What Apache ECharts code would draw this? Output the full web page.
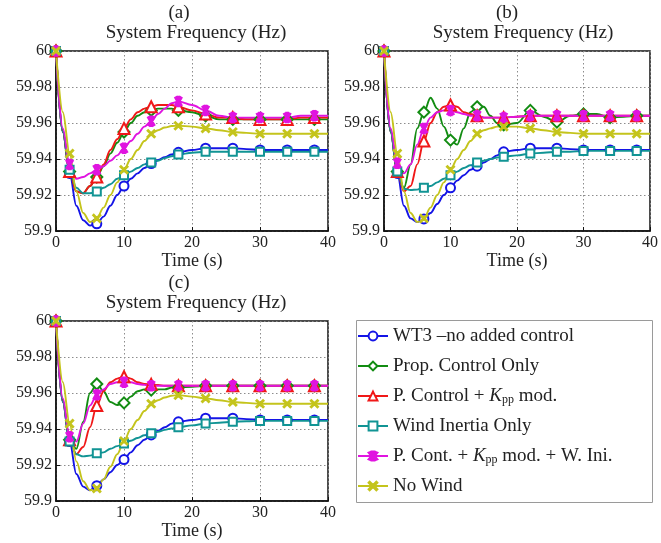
<!DOCTYPE html>
<html>
<head>
<meta charset="utf-8">
<script src="https://cdn.jsdelivr.net/npm/echarts@6/dist/echarts.min.js"></script>
<style>html,body{margin:0;padding:0;background:#fff;}#c{width:661px;height:543px;}</style>
</head>
<body>
<div id="c"></div>
<script>
// ---- data ----
const T = [0,1,2,3,4,5,6,7,8,9,10,11,12,13,14,15,16,17,18,20,22,24,26,28,30,32,34,36,38,40];
const MARK_T = [0,2,6,10,14,18,22,26,30,34,38];
const NAMES = ['WT3 –no added control','Prop. Control Only','P. Control + Kpp mod.','Wind Inertia Only','P. Cont. + Kpp mod. + W. Ini.','No Wind'];
const PANEL_LABELS = ['(a)','(b)','(c)'];
const PANEL_TITLE = 'System Frequency (Hz)';
const X_NAME = 'Time (s)';

// panel (a)
const a_wt3    = [60,59.955,59.932,59.914,59.906,59.903,59.904,59.908,59.914,59.920,59.925,59.929,59.932,59.935,59.9375,59.9395,59.941,59.9425,59.9437,59.945,59.946,59.946,59.946,59.9455,59.945,59.945,59.945,59.945,59.945,59.945];
const a_prop   = [60,59.955,59.933,59.922,59.921,59.925,59.930,59.936,59.943,59.949,59.955,59.960,59.964,59.966,59.967,59.968,59.968,59.968,59.967,59.966,59.964,59.962,59.962,59.962,59.962,59.962,59.962,59.962,59.962,59.962];
const a_pkpp   = [60,59.955,59.933,59.922,59.921,59.925,59.930,59.937,59.945,59.951,59.957,59.962,59.966,59.968,59.969,59.970,59.970,59.970,59.969,59.967,59.965,59.963,59.963,59.962,59.962,59.962,59.962,59.963,59.963,59.963];
const a_wind   = [60,59.955,59.934,59.924,59.921,59.921,59.922,59.924,59.926,59.929,59.931,59.933,59.935,59.937,59.938,59.939,59.9405,59.9415,59.9425,59.9435,59.944,59.944,59.944,59.944,59.944,59.944,59.944,59.944,59.944,59.944];
const a_all    = [60,59.957,59.937,59.929,59.930,59.932,59.934,59.936,59.939,59.942,59.946,59.950,59.954,59.958,59.961,59.965,59.968,59.971,59.972,59.970,59.967,59.964,59.963,59.963,59.963,59.963,59.963,59.964,59.964,59.964];
const a_nowind = [60,59.966,59.943,59.922,59.910,59.905,59.907,59.913,59.920,59.927,59.934,59.940,59.945,59.950,59.954,59.956,59.9575,59.9583,59.9585,59.958,59.957,59.956,59.955,59.9545,59.954,59.954,59.954,59.954,59.954,59.954];
// panel (b)
const b_wt3    = [60,59.955,59.932,59.914,59.907,59.905,59.9067,59.910,59.915,59.920,59.924,59.928,59.931,59.934,59.936,59.938,59.940,59.942,59.944,59.945,59.946,59.946,59.946,59.9455,59.945,59.945,59.945,59.945,59.945,59.945];
const b_prop   = [60,59.955,59.933,59.924,59.937,59.957,59.966,59.974,59.968,59.958,59.9505,59.948,59.957,59.966,59.969,59.969,59.964,59.960,59.959,59.960,59.967,59.9635,59.9605,59.964,59.965,59.965,59.963,59.9635,59.964,59.964];
const b_pkpp   = [60,59.955,59.933,59.922,59.925,59.937,59.950,59.960,59.966,59.969,59.970,59.969,59.966,59.965,59.964,59.963,59.963,59.963,59.963,59.9635,59.964,59.964,59.964,59.964,59.964,59.964,59.964,59.964,59.964,59.964];
const b_wind   = [60,59.955,59.933,59.9235,59.9228,59.923,59.924,59.925,59.927,59.929,59.931,59.933,59.935,59.9365,59.938,59.939,59.940,59.9408,59.9413,59.942,59.943,59.9435,59.944,59.944,59.9445,59.9445,59.9445,59.9445,59.9445,59.9445];
const b_all    = [60,59.957,59.9376,59.932,59.937,59.948,59.957,59.963,59.966,59.967,59.967,59.966,59.965,59.964,59.964,59.963,59.963,59.963,59.963,59.9635,59.964,59.964,59.964,59.964,59.964,59.964,59.964,59.964,59.964,59.964];
const b_nowind = [60,59.966,59.943,59.922,59.910,59.905,59.907,59.913,59.920,59.927,59.934,59.940,59.945,59.950,59.954,59.956,59.957,59.958,59.958,59.958,59.957,59.956,59.955,59.9545,59.954,59.954,59.954,59.954,59.954,59.954];
// panel (c)
const c_wt3    = [60,59.955,59.933,59.915,59.908,59.906,59.9085,59.912,59.916,59.920,59.923,59.927,59.931,59.934,59.9367,59.939,59.941,59.943,59.944,59.945,59.946,59.946,59.946,59.9455,59.945,59.945,59.945,59.945,59.945,59.945];
const c_prop   = [60,59.956,59.934,59.929,59.944,59.960,59.965,59.961,59.955,59.9533,59.9545,59.958,59.961,59.962,59.9616,59.962,59.962,59.963,59.963,59.9635,59.964,59.964,59.964,59.964,59.964,59.964,59.964,59.964,59.964,59.964];
const c_pkpp   = [60,59.955,59.934,59.926,59.930,59.941,59.953,59.961,59.966,59.968,59.969,59.968,59.966,59.965,59.9648,59.9645,59.964,59.964,59.964,59.964,59.964,59.964,59.964,59.964,59.964,59.964,59.964,59.964,59.964,59.964];
const c_wind   = [60,59.955,59.933,59.926,59.9248,59.9252,59.9265,59.927,59.929,59.9305,59.932,59.9335,59.935,59.9365,59.9376,59.9385,59.9395,59.9403,59.941,59.942,59.943,59.9435,59.944,59.9443,59.9445,59.9445,59.9445,59.9445,59.9445,59.9445];
const c_all    = [60,59.957,59.9357,59.933,59.943,59.953,59.959,59.962,59.965,59.966,59.966,59.966,59.965,59.9645,59.964,59.964,59.964,59.964,59.964,59.964,59.964,59.964,59.964,59.964,59.964,59.964,59.964,59.964,59.964,59.964];
const c_nowind = [60,59.966,59.943,59.922,59.911,59.906,59.907,59.912,59.919,59.926,59.9333,59.940,59.945,59.950,59.954,59.956,59.9575,59.9585,59.9588,59.958,59.957,59.956,59.955,59.9545,59.954,59.954,59.954,59.954,59.954,59.954];

const PANELS = [
  [a_wt3, a_prop, a_pkpp, a_wind, a_all, a_nowind],
  [b_wt3, b_prop, b_pkpp, b_wind, b_all, b_nowind],
  [c_wt3, c_prop, c_pkpp, c_wind, c_all, c_nowind]
];

// ---- styles ----
const FONT = '"Liberation Serif", "Times New Roman", serif';
const STAR = 'path://M3.8,0L6.2,0L6.2,10L3.8,10Z M1.46,1.27L3.54,0.07L8.54,8.73L6.46,9.93Z M3.54,9.93L1.46,8.73L6.46,0.07L8.54,1.27Z';
const XMARK = 'path://M0,1.2L1.2,0L5,3.8L8.8,0L10,1.2L6.2,5L10,8.8L8.8,10L5,6.2L1.2,10L0,8.8L3.8,5Z';
const STYLES = [
  {color:'#1414e6', symbol:'emptyCircle', size:9},
  {color:'#128c12', symbol:'emptyDiamond', size:11},
  {color:'#f01818', symbol:'emptyTriangle', size:11},
  {color:'#119494', symbol:'emptyRect', size:8},
  {color:'#e014e0', symbol:STAR, size:10},
  {color:'#c4c41c', symbol:XMARK, size:8}
];
const GRIDS = [
  {left:56, top:51, width:272, height:180},
  {left:384, top:51, width:271, height:180},
  {left:56, top:321, width:272, height:180}
];
const TITLE_POS = [[179,13,196,33],[507,13,523,33],[179,283,196,303]];

const grid = [], xAxis = [], yAxis = [], series = [], graphic = [];
GRIDS.forEach((g, p) => {
  grid.push(Object.assign({show:true, borderColor:'#111', borderWidth:1.5, containLabel:false}, g));
  xAxis.push({
    type:'value', gridIndex:p, min:0, max:40, interval:10,
    name:X_NAME, nameLocation:'middle', nameGap:18,
    nameTextStyle:{fontFamily:FONT, fontSize:18, color:'#222'},
    axisLine:{show:true, lineStyle:{color:'#111', width:1.5}},
    axisTick:{show:true, inside:true, length:4, lineStyle:{color:'#111'}},
    axisLabel:{fontFamily:FONT, fontSize:16, color:'#222', margin:4},
    splitLine:{show:true, lineStyle:{color:'#8c8c8c', type:[1.5,2.5], width:1}}
  });
  yAxis.push({
    type:'value', gridIndex:p, min:59.9, max:60, interval:0.02,
    axisLine:{show:true, lineStyle:{color:'#111', width:1.5}},
    axisTick:{show:true, inside:true, length:4, lineStyle:{color:'#111'}},
    axisLabel:{fontFamily:FONT, fontSize:16, color:'#222', margin:4,
      formatter: v => String(parseFloat(v.toFixed(2)))},
    splitLine:{show:true, lineStyle:{color:'#8c8c8c', type:[1.5,2.5], width:1}}
  });
  PANELS[p].forEach((vals, s) => {
    const st = STYLES[s];
    series.push({
      type:'line', name:NAMES[s], xAxisIndex:p, yAxisIndex:p,
      smooth:0.35, smoothMonotone:'x',
      symbol:st.symbol, symbolSize:st.size, symbolKeepAspect:true,
      showSymbol:true, showAllSymbol:true,
      lineStyle:{color:st.color, width:1.9},
      itemStyle:{color:st.color, borderColor:st.color, borderWidth:1.5},
      emphasis:{disabled:true}, animation:false,
      data: T.map((t, i) => MARK_T.includes(t) ? [t, vals[i]] : {value:[t, vals[i]], symbol:'none'})
    });
  });
  const tp = TITLE_POS[p];
  graphic.push({type:'text', x:tp[0], y:tp[1], style:{text:PANEL_LABELS[p], font:'19px ' + FONT, fill:'#222', align:'center', verticalAlign:'middle', textAlign:'center', textVerticalAlign:'middle'}});
  graphic.push({type:'text', x:tp[2], y:tp[3], style:{text:PANEL_TITLE, font:'19px ' + FONT, fill:'#222', align:'center', verticalAlign:'middle', textAlign:'center', textVerticalAlign:'middle'}});
});
graphic.push({type:'rect', shape:{x:356.5, y:320.5, width:296, height:182}, style:{fill:'none', stroke:'#9a9a9a', lineWidth:1}, z:-1});

const chart = echarts.init(document.getElementById('c'), null, {renderer:'canvas'});
chart.setOption({
  animation:false,
  backgroundColor:'#fff',
  grid, xAxis, yAxis, series, graphic,
  legend:{
    data:NAMES, orient:'vertical', left:357, top:326, padding:0,
    itemGap:10, itemWidth:30, itemHeight:11,
    selectedMode:false,
    textStyle:{fontFamily:FONT, fontSize:19, color:'#222', lineHeight:20,
      rich:{
        k:{fontFamily:FONT, fontSize:19, fontStyle:'italic', color:'#222', lineHeight:20},
        s:{fontFamily:FONT, fontSize:12, color:'#222', lineHeight:12, verticalAlign:'bottom', padding:[6,0,0,0]}
      }},
    formatter: n => n.replace('Kpp', '{k|K}{s|pp}')
  }
});
</script>
</body>
</html>
